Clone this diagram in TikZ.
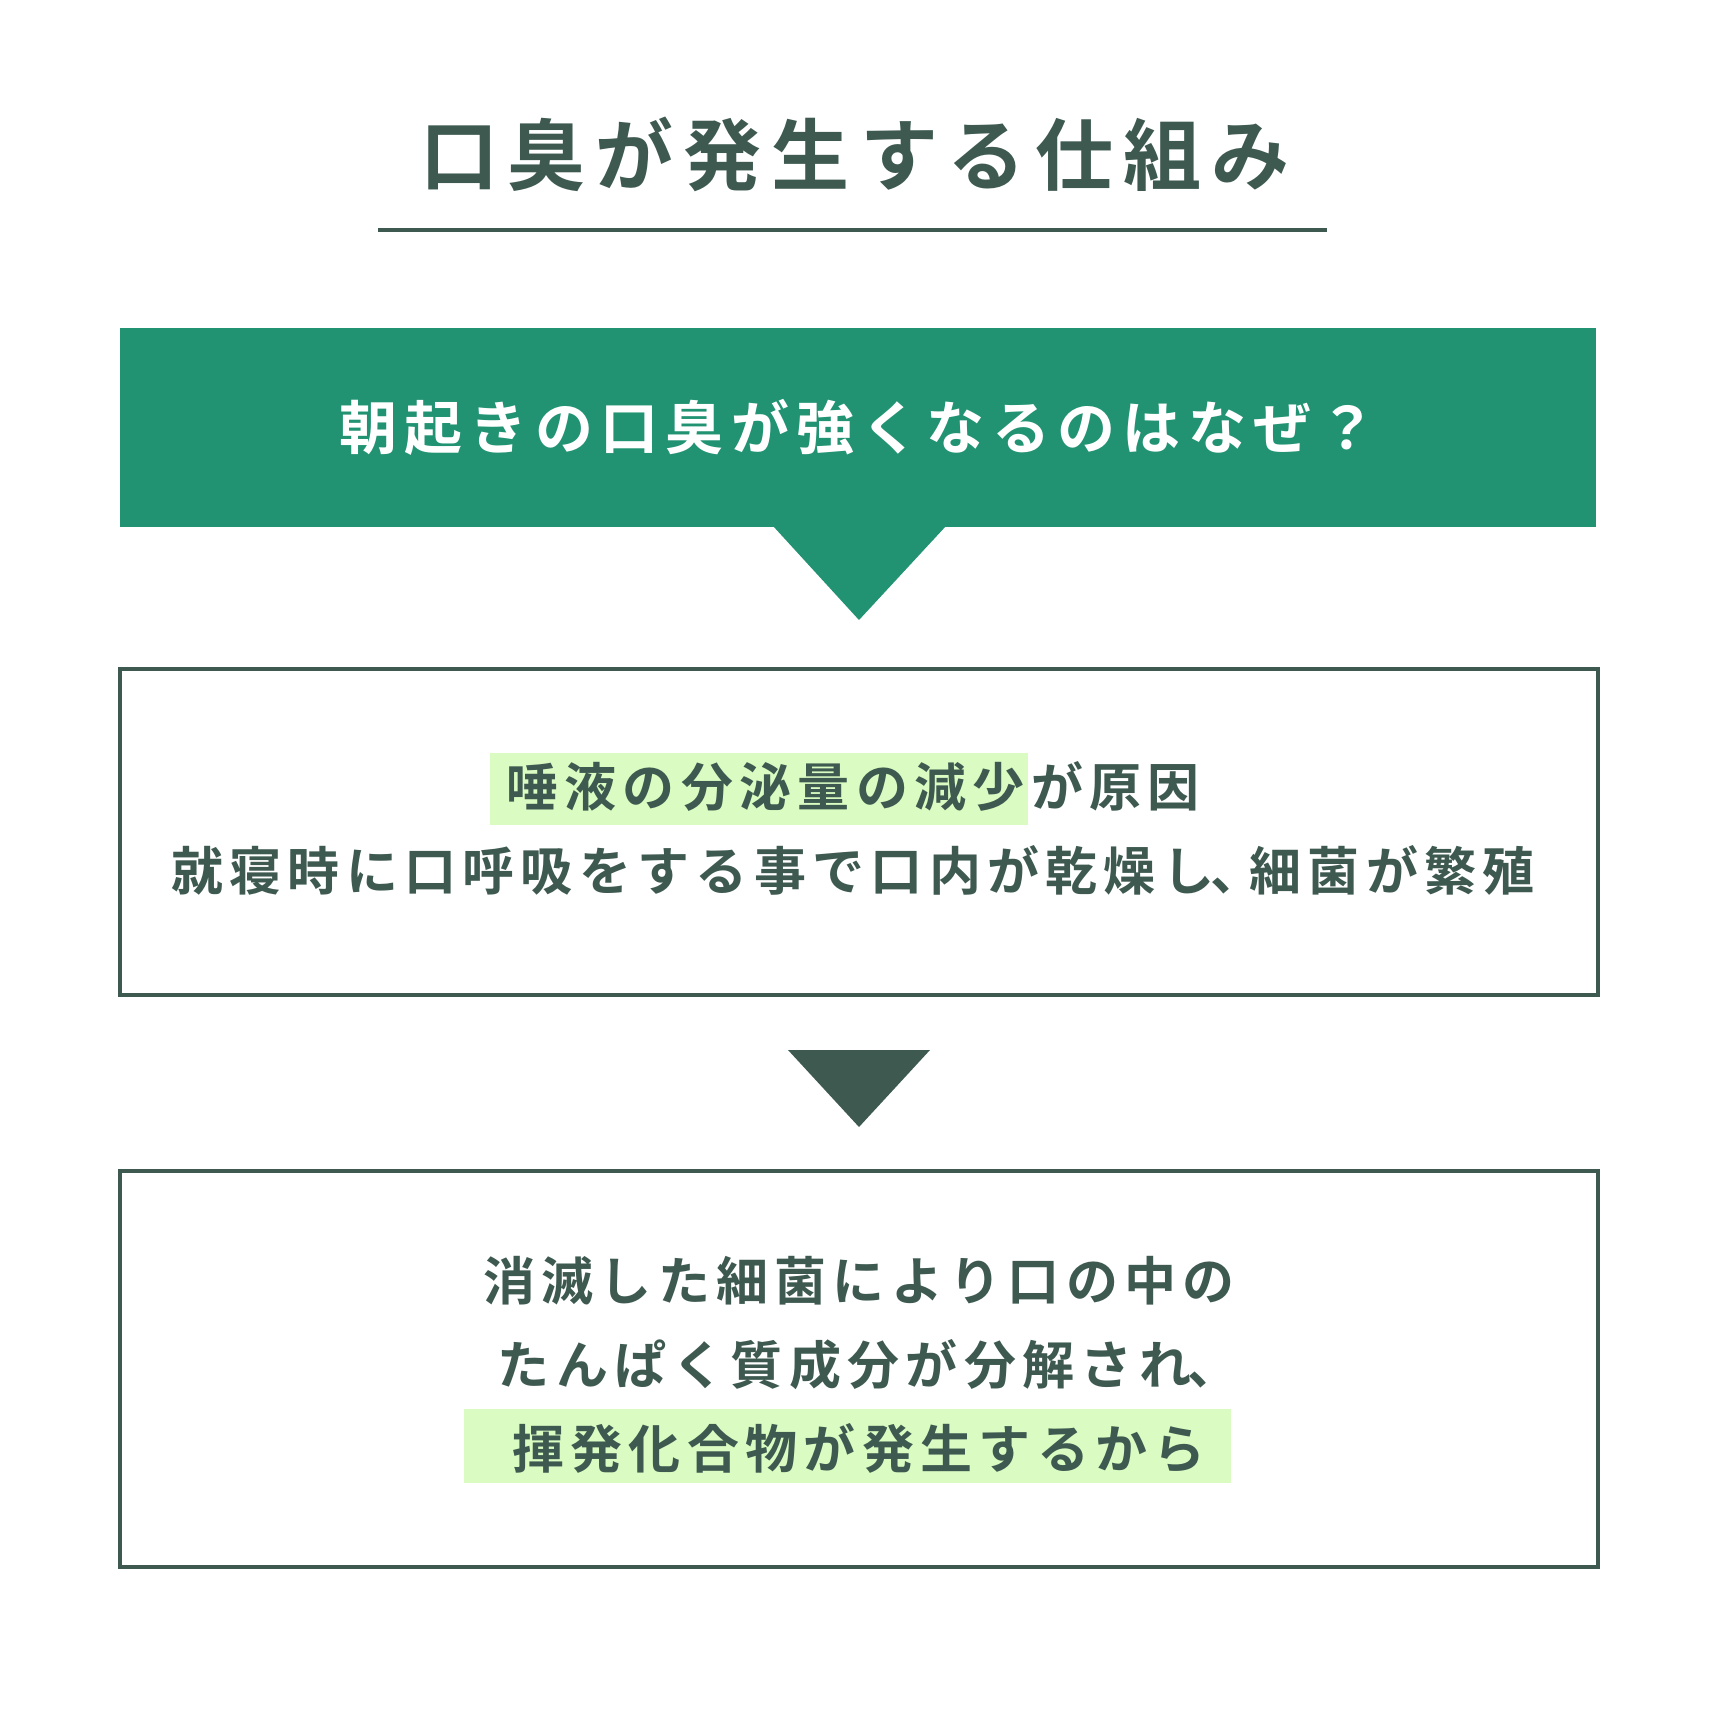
\documentclass[tikz,border=0pt]{standalone}
\usepackage{fontspec}
\usepackage{tikz}
\usetikzlibrary{positioning}

\newfontfamily\jpbold{Noto Sans CJK JP Bold}
\definecolor{ink}{HTML}{3E5A50}
\definecolor{leaf}{HTML}{219372}
\definecolor{marker}{HTML}{DAFCC2}

\makeatletter
\def\sl@comma{、}
% one box per character, the comma takes half a cell
\newcommand\spacedline[2]{\@tfor\sl@c:=#2\do{%
  \ifx\sl@c\sl@comma\makebox[\dimexpr#1pt/2\relax][l]{\kern-7pt\sl@c}%
  \else\makebox[#1pt][c]{\sl@c}\fi}}
\makeatother

\tikzset{
  headline/.style={font=\jpbold\fontsize{78}{80}\selectfont, text=ink},
  banner/.style={fill=leaf, text=white, minimum width=1476pt, minimum height=199pt,
    inner sep=0pt, font=\jpbold\fontsize{58}{60}\selectfont},
  stepbox/.style={draw=ink, line width=3.5pt, minimum width=1478pt, inner sep=0pt},
  steptext/.style={text=ink, inner sep=0pt, align=center,
    font=\jpbold\fontsize{52}{84}\selectfont},
  pointer/.style={fill=#1}
}

\begin{document}
\begin{tikzpicture}[x=1pt,y=-1pt]
  \useasboundingbox (0,0) rectangle (1720,1720);
  \fill[white] (0,0) rectangle (1720,1720);

  % title and rule
  \node[headline] (title) at (855,154) {\spacedline{88}{口臭が発生する仕組み}};
  \coordinate (rule_l) at (378,230);
  \coordinate (rule_r) at (1327,230);
  \draw[ink, line width=4.5pt] (rule_l) -- (rule_r);

  % question banner
  \node[banner] (question) at (858,427.5) {\spacedline{65.3}{朝起きの口臭が強くなるのはなぜ？}};
  \fill[pointer=leaf] (773,526) -- (946,526) -- (859,620) -- cycle;

  % highlights
  \fill[marker] (490,753) rectangle (1028,825);
  \fill[marker] (464,1409) rectangle (1231,1483);

  \node[stepbox, minimum height=326pt] (cause) at (859,832) {};
  \node[steptext] (causetext) at ([yshift=4pt]cause.center)
    {\spacedline{58.3}{唾液の分泌量の減少が原因}\hspace*{12pt}\\
     \spacedline{58.3}{就寝時に口呼吸をする事で口内が乾燥し、細菌が繁殖}\hspace*{12pt}};

  \fill[pointer=ink] (788,1050) -- (930,1050) -- (859,1127) -- cycle;

  \node[stepbox, minimum height=396pt] (result) at (859,1369) {};
  \node[steptext] (resulttext) at ([yshift=4pt]result.center)
    {\spacedline{58.3}{消滅した細菌により口の中の}\\
     \spacedline{58.3}{たんぱく質成分が分解され、}\\
     \spacedline{58.3}{揮発化合物が発生するから}};
\end{tikzpicture}
\end{document}
